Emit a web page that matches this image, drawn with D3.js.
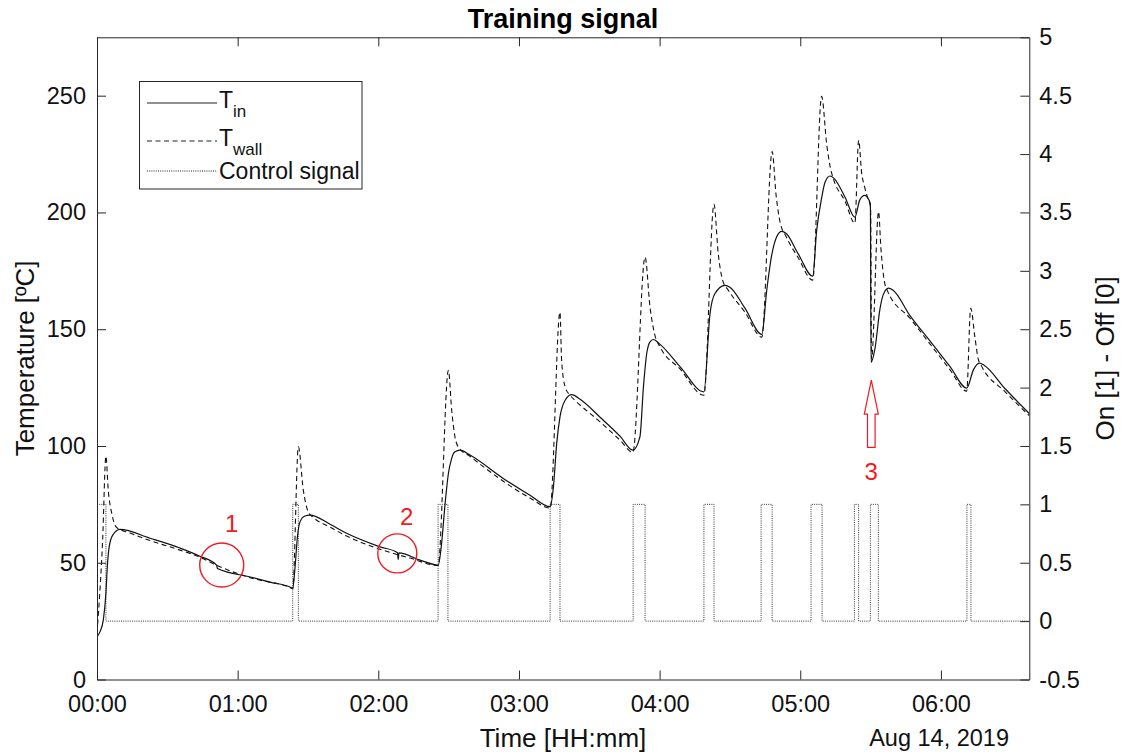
<!DOCTYPE html>
<html>
<head>
<meta charset="utf-8">
<script src="https://cdn.jsdelivr.net/npm/d3@7"></script>
<style>
  html, body { margin: 0; padding: 0; background: #fff; }
  svg { display: block; font-family: "Liberation Sans", Arial, Helvetica, sans-serif; }
</style>
</head>
<body>
<svg id="chart" width="1124" height="754"></svg>
<script>
// ---------------- DATA (minutes after 00:00, Aug 14 2019) ----------------
const tinTime = [0,1.3,2.7,3.8,4.4,5.2,6.7,9.8,22.6,35.4,43.9,51.0,51.4,65.4,73.8,82.3,83.5,84.5,85.5,86.6,88.7,90.9,99.4,106.5,120.7,128.2,128.5,128.8,137.8,145.6,147.0,148.5,149.9,151.3,152.7,154.9,159.1,173.3,184.7,193.3,194.7,196.1,197.5,199.7,202.5,206.1,214.6,223.1,228.6,231.6,233.1,234.5,235.9,237.3,240.2,248.7,258.9,261.5,263.6,267.9,270.0,276.4,283.6,285.7,287.8,289.9,292.1,293.9,299.0,305.3,307.0,309.1,310.6,312.7,314.4,319.1,323.3,325.4,327.5,329.9,330.2,331.9,334.0,335.4,337.6,339.6,346.8,355.4,363.9,371.0,373.9,376.4,378.4,387.4,398.0];
const tinValue = [18.3,20.5,25.5,36.9,48.3,56.8,61.8,64.3,60.5,56.3,52.8,49.0,47.5,43.9,41.7,39.6,39.0,48.3,61.1,67.5,70.0,70.4,66.5,62.6,56.8,54.3,51.4,54.2,51.1,49.0,58.3,75.4,88.2,94.7,97.5,98.2,96.1,86.1,78.9,74.0,82.5,101.1,112.5,119.6,122.0,120.0,112.3,104.2,98.2,103.9,125.3,139.6,144.6,145.6,143.5,134.0,123.2,156.7,165.3,168.8,168.0,159.0,147.8,166.7,181.6,189.5,191.9,191.1,182.5,172.7,192.3,206.1,213.0,215.6,214.6,206.5,198.0,205.4,207.3,203.8,135.8,141.9,158.7,164.8,167.6,166.7,155.8,144.9,134.0,124.8,132.7,135.5,134.6,124.5,113.6];

const twallTime = [0,2.4,3.8,4.8,6.3,8.4,14.1,22.6,35.4,43.9,50.8,65.3,82.3,83.5,85.9,88.0,90.1,92.3,99.4,106.5,120.7,133.5,145.5,149.9,151.3,152.7,154.1,159.1,173.3,184.7,193.3,197.5,198.2,199.7,201.8,204.6,214.6,223.1,228.6,233.8,235.9,238.0,240.2,248.7,258.9,263.2,265.0,266.9,269.3,276.4,283.6,288.0,289.7,291.4,293.9,299.0,305.3,309.1,311.3,312.7,314.1,319.1,323.3,324.9,326.2,327.5,329.0,330.0,330.4,333.4,334.4,335.8,337.2,346.8,355.4,363.9,371.0,372.7,374.5,375.9,377.3,387.4,398.0];
const twallValue = [20.0,59.7,95.6,81.1,71.1,65.1,62.7,59.5,55.4,52.4,49.0,43.6,39.4,38.9,99.6,81.1,71.8,69.4,65.3,61.4,55.8,52.0,48.8,132.4,115.3,103.9,99.6,95.6,84.9,77.7,73.4,157.3,136.7,125.3,121.7,118.9,110.3,102.5,97.3,180.9,159.5,147.4,142.4,133.0,121.7,203.5,182.4,170.9,166.7,157.3,146.6,226.1,207.3,195.8,189.8,180.8,171.0,249.7,229.0,219.8,214.5,204.8,195.4,230.9,216.8,210.7,205.4,202.3,137.3,200.3,184.7,170.9,166.4,154.7,143.6,132.6,123.5,159.0,146.5,137.3,134.3,123.2,112.7];

// control signal: heater ON intervals (minutes)
const pulseStart = [0, 83.5, 145.5, 193.3, 228.7, 258.9, 283.3, 304.6, 323.1, 329.9, 371.1];
const pulseEnd   = [3.8, 85.9, 149.7, 197.5, 233.8, 263.2, 288.0, 309.3, 324.9, 333.3, 372.8];
const endMinute = 397.7;

const leftTicks = [0, 50, 100, 150, 200, 250];
const rightTicks = [-0.5, 0, 0.5, 1, 1.5, 2, 2.5, 3, 3.5, 4, 4.5, 5];

const legendLabels = [
  {main: "T", sub: "in", dash: null},
  {main: "T", sub: "wall", dash: "5,3.5"},
  {main: "Control signal", sub: null, dash: "1,1.2"}
];

// annotations (time in minutes, temperature)
const circles = [ {t: 53.2, T: 49.0, r: 22, label: "1", lt: 57.5, lT: 63.2},
                  {t: 128.1, T: 54.0, r: 19.5, label: "2", lt: 132.1, lT: 66.1} ];
const arrow = {t: 330.3, tipT: 128.2, headT: 113.6, baseT: 99.4, label: "3", lT: 85.4};

// ---------------- CHART ----------------
const svg = d3.select("#chart");
const L = 97, R = 1029.3, T = 37.3, B = 679.5;
const t0 = Date.UTC(2019, 7, 14, 0, 0, 0);
const toDate = m => new Date(t0 + m * 60000);

const x = d3.scaleUtc().domain([toDate(0), toDate(endMinute)]).range([L, R]);
const yL = d3.scaleLinear().domain([0, 275]).range([B, T]);
const yR = d3.scaleLinear().domain([-0.5, 5]).range([B, T]);

const axisColor = "#262626";
const tickFont = 23.5;
const labelFont = 26;

svg.append("defs").append("clipPath").attr("id", "clip")
  .append("rect").attr("x", L).attr("y", T).attr("width", R - L).attr("height", B - T);

const plot = svg.append("g").attr("clip-path", "url(#clip)");

// control signal
const ctrl = [];
pulseStart.forEach((s, i) => { ctrl.push([s, 1]); ctrl.push([pulseEnd[i], 0]); });
ctrl.push([endMinute + 1, 0]);
plot.append("path")
  .datum(ctrl)
  .attr("fill", "none").attr("stroke", "#333").attr("stroke-width", 1)
  .attr("stroke-dasharray", "1,1.2")
  .attr("d", d3.line().x(d => x(toDate(d[0]))).y(d => yR(d[1])).curve(d3.curveStepAfter));

// T_wall
plot.append("path")
  .datum(twallTime.map((t, i) => [t, twallValue[i]]))
  .attr("fill", "none").attr("stroke", "#111").attr("stroke-width", 1.1)
  .attr("stroke-dasharray", "5,3.5")
  .attr("d", d3.line().x(d => x(toDate(d[0]))).y(d => yL(d[1])).curve(d3.curveMonotoneX));

// T_in
plot.append("path")
  .datum(tinTime.map((t, i) => [t, tinValue[i]]))
  .attr("fill", "none").attr("stroke", "#111").attr("stroke-width", 1.2)
  .attr("d", d3.line().x(d => x(toDate(d[0]))).y(d => yL(d[1])).curve(d3.curveMonotoneX));

// Axes
function styleAxis(g) {
  g.selectAll(".domain").attr("stroke", axisColor).attr("stroke-width", 1);
  g.selectAll(".tick line").attr("stroke", axisColor).attr("stroke-width", 1);
  g.selectAll("text").attr("fill", "#111").style("font-size", tickFont + "px")
    .style("font-family", '"Liberation Sans", Arial, sans-serif');
}
const hourTicks = d3.range(0, 7).map(h => toDate(h * 60));

svg.append("g").attr("transform", `translate(0,${B})`)
  .call(d3.axisBottom(x).tickValues(hourTicks).tickFormat(d3.utcFormat("%H:%M"))
    .tickSizeInner(-9).tickSizeOuter(0).tickPadding(16))
  .call(styleAxis);

svg.append("g").attr("transform", `translate(0,${T})`)
  .call(d3.axisTop(x).tickValues(hourTicks).tickFormat("")
    .tickSizeInner(-9).tickSizeOuter(0))
  .call(styleAxis);

svg.append("g").attr("transform", `translate(${L},0)`)
  .call(d3.axisLeft(yL).tickValues(leftTicks).tickSizeInner(-9).tickSizeOuter(0).tickPadding(11))
  .call(styleAxis);

svg.append("g").attr("transform", `translate(${R},0)`)
  .call(d3.axisRight(yR).tickValues(rightTicks).tickFormat(d => String(d))
    .tickSizeInner(-9).tickSizeOuter(0).tickPadding(10))
  .call(styleAxis);

// Titles and labels
svg.append("text").attr("x", 563).attr("y", 28).attr("text-anchor", "middle")
  .style("font-size", "27px").style("font-weight", "bold").attr("fill", "#000")
  .text("Training signal");

svg.append("text").attr("x", 563).attr("y", 747).attr("text-anchor", "middle")
  .style("font-size", labelFont + "px").attr("fill", "#111").text("Time [HH:mm]");

svg.append("text").attr("x", 1009).attr("y", 746).attr("text-anchor", "end")
  .style("font-size", tickFont + "px").attr("fill", "#111").text("Aug 14, 2019");

svg.append("text").attr("transform", `translate(34,${(T + B) / 2}) rotate(-90)`)
  .attr("text-anchor", "middle").style("font-size", labelFont + "px").attr("fill", "#111")
  .text("Temperature [ºC]");

svg.append("text").attr("transform", `translate(1114,${(T + B) / 2}) rotate(-90)`)
  .attr("text-anchor", "middle").style("font-size", labelFont + "px").attr("fill", "#111")
  .text("On [1] - Off [0]");

// Legend
const lg = svg.append("g");
lg.append("rect").attr("x", 139.5).attr("y", 81.5).attr("width", 222.5).attr("height", 107.5)
  .attr("fill", "#fff").attr("stroke", axisColor).attr("stroke-width", 1);
const rowY = [103, 141, 171];
legendLabels.forEach((d, i) => {
  lg.append("line").attr("x1", 147).attr("x2", 217).attr("y1", rowY[i]).attr("y2", rowY[i])
    .attr("stroke", "#222").attr("stroke-width", 1)
    .attr("stroke-dasharray", d.dash);
  const tx = lg.append("text").attr("x", 219).attr("y", d.sub ? rowY[i] + 5 : rowY[i] + 8)
    .style("font-size", "23px").attr("fill", "#111");
  tx.append("tspan").text(d.main);
  if (d.sub) tx.append("tspan").attr("dy", 9).style("font-size", "17px").text(d.sub);
});

// Red annotations
const red = "#f01a22";
const ann = svg.append("g");
circles.forEach(c => {
  ann.append("circle").attr("cx", x(toDate(c.t))).attr("cy", yL(c.T)).attr("r", c.r)
    .attr("fill", "none").attr("stroke", red).attr("stroke-width", 1.4);
  ann.append("text").attr("x", x(toDate(c.lt))).attr("y", yL(c.lT)).attr("text-anchor", "middle")
    .style("font-size", "24px").attr("fill", red).text(c.label);
});
const ax = x(toDate(arrow.t));
const pts = [[ax, yL(arrow.tipT)], [ax + 7, yL(arrow.headT)], [ax + 3.8, yL(arrow.headT)],
             [ax + 3.8, yL(arrow.baseT)], [ax - 3.8, yL(arrow.baseT)], [ax - 3.8, yL(arrow.headT)],
             [ax - 7, yL(arrow.headT)]];
ann.append("path").attr("d", d3.line()(pts) + "Z")
  .attr("fill", "#fff").attr("stroke", red).attr("stroke-width", 1.2);
ann.append("text").attr("x", ax).attr("y", yL(arrow.lT)).attr("text-anchor", "middle")
  .style("font-size", "24px").attr("fill", red).text(arrow.label);
</script>
</body>
</html>
